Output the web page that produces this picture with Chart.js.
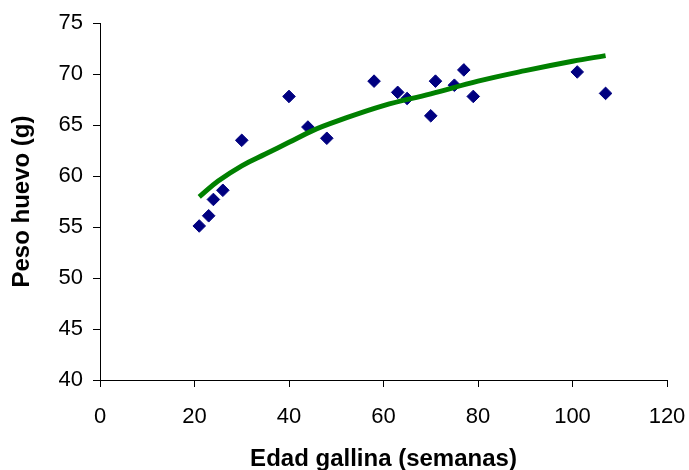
<!DOCTYPE html>
<html>
<head>
<meta charset="utf-8">
<script src="https://cdn.jsdelivr.net/npm/chart.js@4"></script>
<style>
  html, body { margin: 0; padding: 0; background: #fff; }
  #wrap { width: 689px; height: 470px; }
</style>
</head>
<body>
<div id="wrap"><canvas id="myChart" width="689" height="470"></canvas></div>
<script>
// Edad de la gallina (semanas) y peso del huevo (g)
const edad = [21, 23, 24, 26, 30, 40, 44, 48, 58, 63, 65, 70, 71, 75, 77, 79, 101, 107];
const peso = [55.1, 56.1, 57.7, 58.6, 63.5, 67.8, 64.8, 63.7, 69.3, 68.2, 67.6, 65.9, 69.3, 68.9, 70.4, 67.8, 70.2, 68.1];

// Curva de tendencia (logarítmica)
const tendX = [21, 25, 30, 35, 40, 45, 50, 60, 70, 80, 90, 100, 107];
const tendY = [57.95, 59.5, 61.0, 62.15, 63.3, 64.45, 65.35, 66.9, 68.05, 69.3, 70.33, 71.25, 71.8];

const xTicks = [0, 20, 40, 60, 80, 100, 120];
const yTicks = [40, 45, 50, 55, 60, 65, 70, 75];

const puntos = edad.map((x, i) => ({ x: x, y: peso[i] }));
const tendencia = tendX.map((x, i) => ({ x: x, y: tendY[i] }));

const tickFont = { family: '"Liberation Sans", Arial, sans-serif', size: 22 };
const titleFont = { family: '"Liberation Sans", Arial, sans-serif', size: 24, weight: 'bold', lineHeight: 0.9 };

var ctx = document.getElementById('myChart').getContext('2d');
var myChart = new Chart(ctx, {
    type: 'scatter',
    data: {
        datasets: [{
            // trend line first so it sits on top of the markers
            type: 'line',
            data: tendencia,
            borderColor: '#008000',
            borderWidth: 5,
            pointRadius: 0,
            tension: 0.4,
            fill: false
        }, {
            data: puntos,
            pointStyle: 'rectRot',
            pointRadius: 6.3,
            pointBackgroundColor: '#000080',
            pointBorderColor: '#000080',
            pointBorderWidth: 1
        }]
    },
    options: {
        responsive: false,
        animation: false,
        layout: { padding: { top: 23, right: 22, left: 0, bottom: 0 } },
        plugins: { legend: { display: false }, tooltip: { enabled: false } },
        scales: {
            x: {
                type: 'linear',
                min: 0, max: 120,
                afterBuildTicks: s => { s.ticks = xTicks.map(v => ({ value: v })); },
                afterFit: s => { s.height = 90; s.paddingLeft = 0; s.paddingRight = 0; },
                grid: { drawOnChartArea: false, drawTicks: true, tickLength: 7, color: '#000' },
                border: { color: '#000', width: 1 },
                ticks: { color: '#000', font: tickFont, padding: 17, maxRotation: 0 },
                title: { display: true, text: 'Edad gallina (semanas)', color: '#000', font: titleFont, padding: { top: 0, bottom: 0 } }
            },
            y: {
                type: 'linear',
                min: 40, max: 75,
                afterBuildTicks: s => { s.ticks = yTicks.map(v => ({ value: v })); },
                afterFit: s => { s.width = 100; s.paddingTop = 0; s.paddingBottom = 0; },
                grid: { drawOnChartArea: false, drawTicks: true, tickLength: 7, color: '#000' },
                border: { color: '#000', width: 1 },
                ticks: { color: '#000', font: tickFont, padding: 10 },
                title: { display: true, text: 'Peso huevo (g)', color: '#000', font: titleFont, padding: { top: 12, bottom: 0 } }
            }
        }
    }
});
</script>
</body>
</html>
